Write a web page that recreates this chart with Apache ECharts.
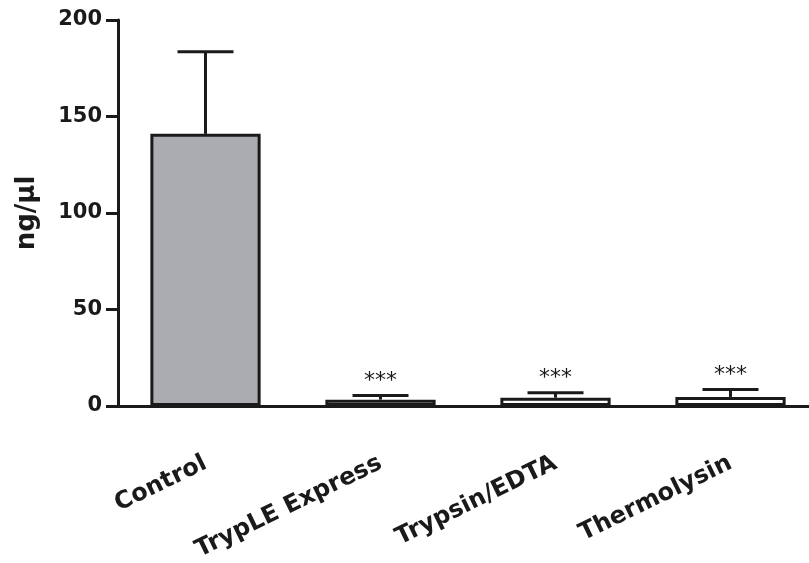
<!DOCTYPE html>
<html>
<head>
<meta charset="utf-8">
<script src="https://cdn.jsdelivr.net/npm/echarts@6/dist/echarts.min.js"></script>
<style>html,body{margin:0;padding:0;background:#fff}#c{width:809px;height:563px}</style>
</head>
<body>
<div id="c"></div>
<script>
const categories = ['Control', 'TrypLE Express', 'Trypsin/EDTA', 'Thermolysin'];
const means = [141, 3.3, 4.3, 4.7];
const sd = [42.5, 2.2, 2.6, 3.8];
const significance = ['', '***', '***', '***'];
const yTicks = { min: 0, max: 200, interval: 50 };

const FONT = '"DejaVu Sans", "Liberation Sans", Arial, sans-serif';
const chart = echarts.init(document.getElementById('c'), null, { renderer: 'canvas' });

const errData = categories.map((c, i) => [i, means[i], means[i] + sd[i]]);

chart.setOption({
  animation: false,
  backgroundColor: '#fff',
  grid: { left: 118, top: 20, bottom: 157, width: 700, containLabel: false, outerBoundsMode: 'none' },
  xAxis: {
    type: 'category',
    data: categories,
    axisLine: { lineStyle: { color: '#1a1a1a', width: 3 } },
    axisTick: { alignWithLabel: true, length: 15, lineStyle: { color: '#1a1a1a', width: 3 } },
    axisLabel: {
      rotate: 26, margin: 56, interval: 0,
      fontFamily: FONT, fontWeight: 'bold', fontSize: 24, color: '#1a1a1a'
    }
  },
  yAxis: {
    type: 'value',
    min: yTicks.min, max: yTicks.max, interval: yTicks.interval,
    name: 'ng/μl', nameLocation: 'middle', nameGap: 78,
    nameTextStyle: { fontFamily: FONT, fontWeight: 'bold', fontSize: 26, color: '#1a1a1a' },
    splitLine: { show: false },
    axisLine: { show: true, lineStyle: { color: '#1a1a1a', width: 3 } },
    axisTick: { show: true, length: 12, lineStyle: { color: '#1a1a1a', width: 3 } },
    axisLabel: { margin: 16, fontFamily: FONT, fontWeight: 'bold', fontSize: 21, color: '#1a1a1a' }
  },
  series: [
    {
      type: 'bar',
      data: means.map((v, i) => ({
        value: v,
        itemStyle: { color: i === 0 ? '#abacb0' : '#ffffff' }
      })),
      barWidth: '63%',
      itemStyle: { borderColor: '#1a1a1a', borderWidth: 3 },
      z: 2
    },
    {
      type: 'custom',
      data: errData,
      z: 3,
      renderItem: function (params, api) {
        const x = api.value(0);
        const p0 = api.coord([x, api.value(1)]);
        const p1 = api.coord([x, api.value(2)]);
        const half = 28;
        const style = { stroke: '#1a1a1a', lineWidth: 3 };
        const children = [
          { type: 'line', shape: { x1: p0[0], y1: p0[1], x2: p1[0], y2: p1[1] }, style: style },
          { type: 'line', shape: { x1: p1[0] - half, y1: p1[1], x2: p1[0] + half, y2: p1[1] }, style: style }
        ];
        const sig = significance[params.dataIndex];
        if (sig) {
          children.push({
            type: 'text',
            style: {
              text: sig, x: p1[0], y: p1[1] - 25,
              align: 'center', verticalAlign: 'top',
              font: 'normal 22px ' + FONT, fill: '#1a1a1a'
            }
          });
        }
        return { type: 'group', children: children };
      }
    }
  ]
});
</script>
</body>
</html>
